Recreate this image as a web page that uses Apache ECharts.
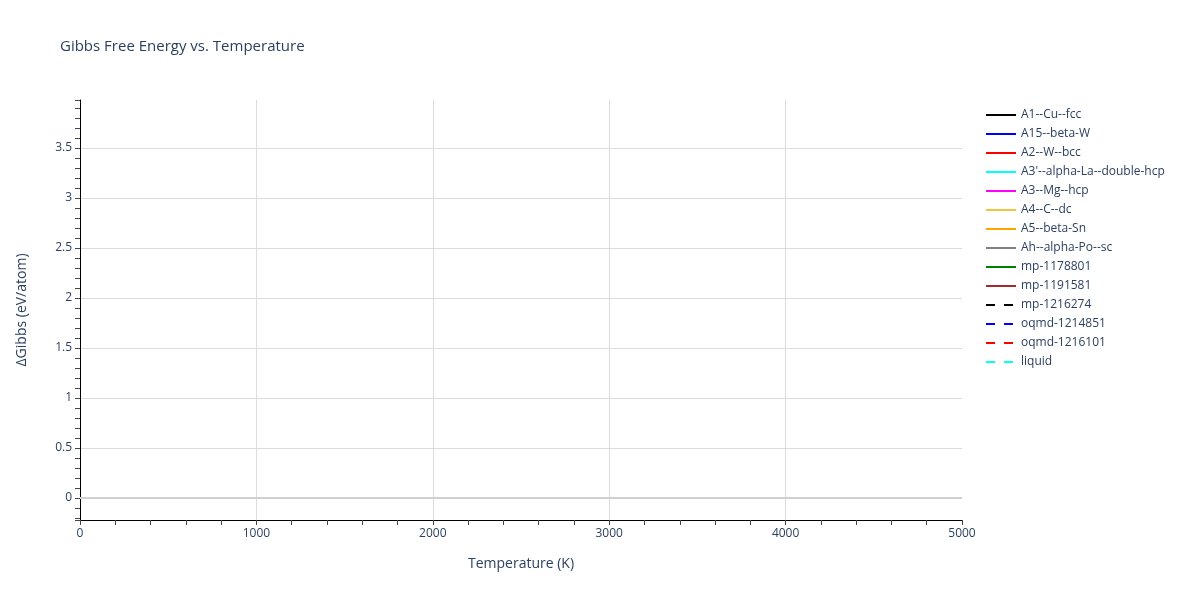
<!DOCTYPE html>
<html>
<head>
<meta charset="utf-8">
<script src="https://cdn.jsdelivr.net/npm/echarts@6/dist/echarts.min.js"></script>
<style>
  html, body { margin: 0; padding: 0; background: #fff; }
  #chart { width: 1200px; height: 600px; }
</style>
</head>
<body>
<div id="chart"></div>
<script>
// phases listed in the legend; none of them has a point inside the plotted window
var phaseNames = [
  'A1--Cu--fcc', 'A15--beta-W', 'A2--W--bcc', "A3'--alpha-La--double-hcp",
  'A3--Mg--hcp', 'A4--C--dc', 'A5--beta-Sn', 'Ah--alpha-Po--sc',
  'mp-1178801', 'mp-1191581', 'mp-1216274', 'oqmd-1214851', 'oqmd-1216101', 'liquid'
];
// [temperature, dG] pairs per phase (nothing visible in the reference)
var phaseData = phaseNames.map(function() { return []; });

var lineColors = ['#000000', '#0000ff', '#ff0000', '#00ffff', '#ff00ff', '#f0c43c', '#ffa500',
  '#808080', '#008000', '#a52a2a', '#000000', '#0000ff', '#ff0000', '#00ffff'];
var dashedFrom = 10;

var txt = '#2a3f5f';
var font = '"Open Sans", "Noto Sans", sans-serif';

var series = phaseNames.map(function(name, i) {
  var s = {
    name: name,
    type: 'line',
    data: phaseData[i],
    showSymbol: false,
    symbol: 'none',
    lineStyle: { color: lineColors[i], width: 2, type: i >= dashedFrom ? [9, 9] : 'solid' },
    itemStyle: { color: lineColors[i] }
  };
  if (i === 0) {
    // zero line
    s.markLine = {
      silent: true,
      symbol: 'none',
      label: { show: false },
      lineStyle: { color: '#d0d0d0', width: 2, type: 'solid' },
      data: [{ yAxis: 0 }]
    };
  }
  return s;
});

var chart = echarts.init(document.getElementById('chart'), null, { renderer: 'canvas' });
chart.setOption({
  animation: false,
  backgroundColor: '#fff',
  textStyle: { fontFamily: font },
  title: {
    text: 'Gibbs Free Energy vs. Temperature',
    left: 55, top: 34,
    textStyle: { fontSize: 15, fontWeight: 'normal', color: txt, fontFamily: font }
  },
  legend: {
    orient: 'vertical',
    left: 980, top: 104,
    itemWidth: 30, itemHeight: 14, itemGap: 7,
    itemStyle: { opacity: 0 },
    textStyle: { fontSize: 12, color: txt, fontFamily: font },
    data: phaseNames
  },
  grid: { left: 80, right: 238, top: 100, bottom: 80, containLabel: false },
  xAxis: {
    type: 'value',
    min: 0, max: 5000, interval: 1000,
    name: 'Temperature (K)',
    nameLocation: 'middle', nameGap: 37,
    nameTextStyle: { fontSize: 14, color: txt },
    axisLine: { show: true, onZero: false, lineStyle: { color: '#000', width: 1 } },
    axisTick: { show: true, length: 5, lineStyle: { color: '#444' } },
    minorTick: { show: true, splitNumber: 5, length: 5, lineStyle: { color: '#444' } },
    axisLabel: { fontSize: 12, color: txt, margin: 8, formatter: function(v) { return String(v); } },
    splitLine: { show: true, showMinLine: false, showMaxLine: false, lineStyle: { color: '#dcdcdc', width: 1 } }
  },
  yAxis: {
    type: 'value',
    min: -0.22, max: 3.98, splitNumber: 8,
    name: 'ΔGibbs (eV/atom)',
    nameLocation: 'middle', nameGap: 51,
    nameTextStyle: { fontSize: 14, color: txt },
    axisLine: { show: true, onZero: false, lineStyle: { color: '#000', width: 1 } },
    axisTick: { show: true, length: 5, lineStyle: { color: '#444' } },
    minorTick: { show: true, splitNumber: 5, length: 5, lineStyle: { color: '#444' } },
    axisLabel: { fontSize: 12, color: txt, margin: 8, showMinLabel: false, showMaxLabel: false },
    splitLine: { show: true, showMinLine: false, showMaxLine: false, lineStyle: { color: '#dcdcdc', width: 1 } }
  },
  series: series
});
</script>
</body>
</html>
